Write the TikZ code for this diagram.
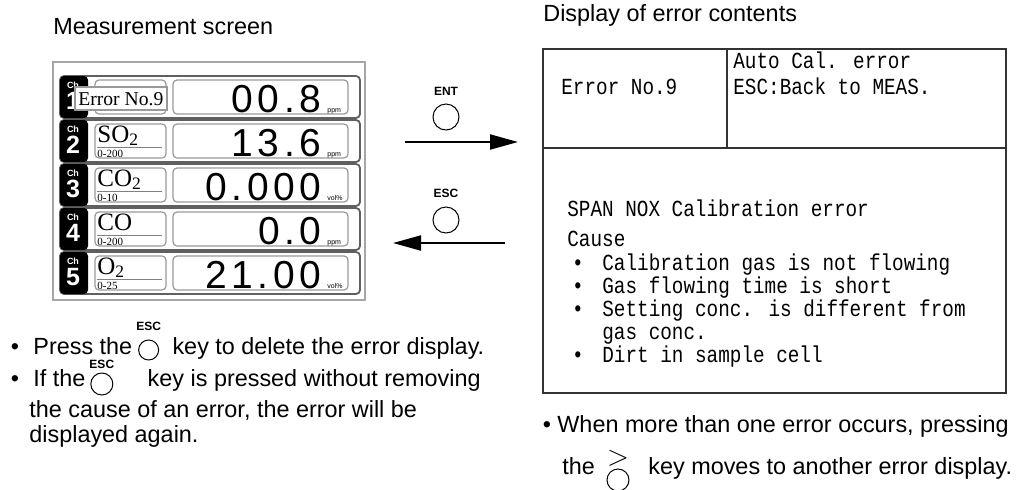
\documentclass[tikz,border=0pt]{standalone}
\usepackage{fontspec}
\setmainfont{Liberation Serif}
\setsansfont{Liberation Sans}
\newfontfamily\lcdfont[FakeStretch=0.84]{Liberation Mono}
\newfontfamily\digitfont[LetterSpace=12]{Liberation Sans}
\usetikzlibrary{arrows.meta, positioning}

\tikzset{
  txt/.style={anchor=base west, inner sep=0pt, font=\sffamily\fontsize{11.7}{14}\selectfont},
  lcd/.style={anchor=base west, inner sep=0pt, font=\lcdfont\fontsize{11.5}{13}\selectfont},
  keycap/.style={circle, draw, line width=0.5pt, inner sep=0pt},
  keylabel/.style={inner sep=0pt, font=\sffamily\bfseries\fontsize{6}{6}\selectfont},
  keyarrow/.style={-{Triangle[length=14pt,width=7.5pt]}, line width=1pt},
  rowframe/.style={draw=gray!75!black, line width=0.9pt, rounded corners=2pt},
  innerbox/.style={draw=gray!80, line width=0.6pt, rounded corners=2pt},
  chtag/.style={text=white, inner sep=0pt, font=\sffamily\bfseries\fontsize{4.5}{5}\selectfont},
  chnum/.style={text=white, inner sep=0pt, font=\sffamily\bfseries\fontsize{12.5}{13}\selectfont},
}

\begin{document}
\begin{tikzpicture}[x=0.5pt, y=-0.5pt]
  \useasboundingbox (0,0) rectangle (1019,489);

  % measurement screen
  \node[txt] (meastitle) at (53,34) {Measurement screen};
  \draw[gray!70, line width=1.2pt] (53,62) rectangle (365,300);
  \foreach \i/\nm/\rg/\val/\un in {1/{}/{}/00.8/ppm,
      2/{SO\textsubscript{2}}/0-200/13.6/ppm,
      3/{CO\textsubscript{2}}/0-10/0.000/vol\%,
      4/CO/0-200/0.0/ppm,
      5/{O\textsubscript{2}}/0-25/21.00/vol\%} {
    \pgfmathsetmacro\t{76+44*(\i-1)}
    \pgfmathsetmacro\b{\t+42}
    \draw[rowframe] (60,\t) rectangle (360,\b);
    \fill[black, rounded corners=2pt] (60,\t) rectangle (88,\b);
    \node[chtag] (ch\i) at (73,\t+9) {Ch};
    \node[chnum] (chn\i) at (73,\t+25) {\i};
    \draw[innerbox] (95,\t+4) rectangle (166,\b-4);
    \draw[innerbox] (173,\t+4) rectangle (348,\b-4);
    \node[anchor=base west, inner sep=0pt, font=\fontsize{12.5}{13}\selectfont]
      (name\i) at (97,\t+22) {\nm};
    \draw[gray, line width=0.5pt] (97,\t+27) -- (162,\t+27);
    \node[anchor=base west, inner sep=0pt, font=\fontsize{5.5}{6}\selectfont]
      (rng\i) at (97,\t+37) {\rg};
    \node[anchor=base east, inner sep=0pt, font=\digitfont\fontsize{19.5}{20}\selectfont]
      (val\i) at (322,\b-6) {\val};
    \node[anchor=base west, inner sep=0pt, font=\sffamily\fontsize{3.5}{4}\selectfont]
      (unit\i) at (327,\b-6) {\un};
  }
  \node[draw=gray!80, fill=white, line width=0.6pt, minimum width=46pt,
        minimum height=11.5pt, inner sep=0pt] (popup) at (121,98.5) {};
  \node[anchor=base west, inner sep=0pt, font=\fontsize{9.8}{10}\selectfont]
    (popuptxt) at (78,105) {Error No.9};

  % keys and arrows
  \node[keycap, minimum size=13pt] (entkey) at (446,117) {};
  \node[keylabel, above=4pt of entkey] (entlbl) {ENT};
  \coordinate (entL) at (405,142);
  \coordinate (entR) at (518,142);
  \draw[keyarrow] (entL) -- (entR);
  \node[keycap, minimum size=13pt] (esckey) at (446,220) {};
  \node[keylabel, above=4pt of esckey] (esclbl) {ESC};
  \coordinate (escR) at (505,243);
  \coordinate (escL) at (393,243);
  \draw[keyarrow] (escR) -- (escL);

  % notes below the screen
  \node[txt, anchor=base] (bulA) at (15,354) {•};
  \node[txt] (noteA) at (33,354) {Press the};
  \node[keycap, minimum size=10pt] (keyA) at ([xshift=8pt, yshift=2pt]noteA.base east) {};
  \node[keylabel, above=4pt of keyA] (escA) {ESC};
  \path (keyA.east) ++(6.5pt,0) coordinate (gapA);
  \node[txt] (noteAb) at (gapA |- noteA.base) {key to delete the error display.};
  \node[txt, anchor=base] (bulB) at (15,386) {•};
  \node[txt] (noteB) at (33,386) {If the};
  \node[keycap, minimum size=11pt] (keyB) at ([xshift=8pt, yshift=1pt]noteB.base east) {};
  \node[keylabel, above=1.5pt of keyB] (escB) {ESC};
  \path (keyB.east) ++(17pt,0) coordinate (gapB);
  \node[txt] (noteBb) at (gapB |- noteB.base) {key is pressed without removing};
  \node[txt] (noteC) at (29,417) {the cause of an error, the error will be};
  \node[txt] (noteD) at (29,442) {displayed again.};

  % error contents
  \node[txt] (errtitle) at (543,21) {Display of error contents};
  \draw[gray!40!black, line width=0.6pt] (543,49) rectangle (1006,393);
  \draw[gray!40!black, line width=0.6pt] (543,148) -- (1006,148);
  \draw[gray!40!black, line width=0.6pt] (727,49) -- (727,148);
  \node[lcd] (errno) at (561,94) {Error No.9};
  \node[lcd] (errkind) at (733,68) {Auto Cal. error};
  \node[lcd] (errback) at (733,94) {ESC:Back to MEAS.};
  \node[lcd] (errmsg) at (567,216) {SPAN NOX Calibration error};
  \node[lcd] (cause) at (567,246) {Cause};
  \foreach \y/\c in {270/Calibration gas is not flowing,
      293/Gas flowing time is short,
      316/Setting conc. is different from,
      362/Dirt in sample cell} {
    \node[lcd, anchor=base] (dot\y) at (578,\y) {•};
    \node[lcd] (why\y) at (602,\y) {\c};
  }
  \node[lcd] (why339) at (602,339) {gas conc.};

  % note below the error box
  \node[txt, anchor=base] (bulE) at (547,432) {•};
  \node[txt] (noteE) at (557,432) {When more than one error occurs, pressing};
  \node[txt] (noteF) at (562,474) {the};
  \node[keycap, minimum size=11pt] (nextkey) at (618,480) {};
  \node[inner sep=0pt, font=\fontsize{15}{15}\selectfont, above=1pt of nextkey] (nextlbl) {$>$};
  \node[txt] (noteFb) at (648,474) {key moves to another error display.};
\end{tikzpicture}
\end{document}
